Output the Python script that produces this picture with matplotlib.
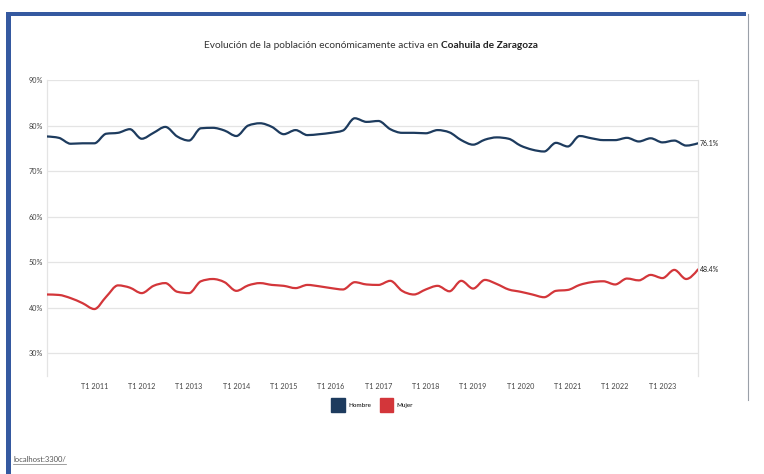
import matplotlib

matplotlib.use("Agg")

import matplotlib.pyplot as plt
import numpy as np
from matplotlib.lines import Line2D
from matplotlib.patches import Patch, PathPatch, Rectangle
from matplotlib.path import Path

FONT = ["Liberation Sans Narrow", "Lato", "DejaVu Sans"]
NAVY = "#1d3b5e"
RED = "#d3363a"
FRAME = "#3559a0"
GRID = "#e4e4e4"

QUARTERS = [f"T{q} {year}" for year in range(2010, 2024) for q in range(1, 5)]

HOMBRE = [
    77.6, 77.3, 76.0, 76.1, 76.1, 78.2, 78.4, 79.2, 77.1, 78.4,
    79.7, 77.6, 76.7, 79.4, 79.5, 78.9, 77.7, 80.0, 80.5, 79.7,
    78.1, 79.0, 77.9, 78.1, 78.4, 78.9, 81.6, 80.8, 81.0, 79.2,
    78.4, 78.4, 78.3, 79.0, 78.5, 76.8, 75.8, 76.9, 77.4, 77.1,
    75.6, 74.7, 74.3, 76.2, 75.4, 77.7, 77.2, 76.8, 76.8, 77.3,
    76.5, 77.2, 76.3, 76.7, 75.6, 76.1,
]
MUJER = [
    42.9, 42.8, 42.1, 41.0, 39.7, 42.4, 44.9, 44.4, 43.2, 44.8,
    45.4, 43.5, 43.2, 45.8, 46.3, 45.6, 43.7, 44.9, 45.4, 45.0,
    44.8, 44.3, 45.0, 44.7, 44.3, 44.0, 45.6, 45.1, 45.0, 45.9,
    43.7, 42.9, 44.0, 44.8, 43.6, 45.9, 44.2, 46.1, 45.2, 44.0,
    43.5, 42.9, 42.3, 43.7, 43.9, 45.0, 45.6, 45.8, 45.1, 46.4,
    46.0, 47.2, 46.5, 48.3, 46.3, 48.4,
]
SERIES = [("Hombre", HOMBRE, NAVY), ("Mujer", MUJER, RED)]
Y_TICKS = [30, 40, 50, 60, 70, 80, 90]

TITLE_PLAIN = "Evolución de la población económicamente activa en "
TITLE_BOLD = "Coahuila de Zaragoza"


def monotone_path(x: np.ndarray, y: np.ndarray) -> Path:
    # cubic bezier segments with monotone tangents (same scheme as d3 monotoneX)
    n = len(x)
    h = np.diff(x)
    s = np.diff(y) / h
    t = np.zeros(n)
    for i in range(1, n - 1):
        p = (s[i - 1] * h[i] + s[i] * h[i - 1]) / (h[i - 1] + h[i])
        t[i] = (np.sign(s[i - 1]) + np.sign(s[i])) * min(
            abs(s[i - 1]), abs(s[i]), 0.5 * abs(p)
        )
    t[0] = (3 * s[0] - t[1]) / 2
    t[-1] = (3 * s[-1] - t[-2]) / 2

    verts = [(x[0], y[0])]
    codes = [Path.MOVETO]
    for i in range(n - 1):
        dx = h[i] / 3
        verts += [
            (x[i] + dx, y[i] + dx * t[i]),
            (x[i + 1] - dx, y[i + 1] - dx * t[i + 1]),
            (x[i + 1], y[i + 1]),
        ]
        codes += [Path.CURVE4] * 3
    return Path(verts, codes)


def draw_frame(fig) -> None:
    w, h = fig.bbox.width, fig.bbox.height
    fig.add_artist(Rectangle((6 / w, 0), 5 / w, 1 - 12 / h,
                             transform=fig.transFigure, color=FRAME, lw=0))
    fig.add_artist(Rectangle((6 / w, 1 - 16 / h), 740 / w, 4 / h,
                             transform=fig.transFigure, color=FRAME, lw=0))
    fig.add_artist(Line2D([748 / w, 748 / w], [1 - 14 / h, 1 - 400 / h],
                          transform=fig.transFigure, color="#9aa0a8", lw=0.8))


def draw_title(fig) -> None:
    renderer = fig.canvas.get_renderer()
    y = 1 - 45 / fig.bbox.height
    plain = fig.text(0, y, TITLE_PLAIN, fontsize=7.3, color="#333333",
                     ha="left", va="center")
    bold = fig.text(0, y, TITLE_BOLD, fontsize=7.3, color="#222222",
                    fontweight="bold", ha="left", va="center")
    w_plain = plain.get_window_extent(renderer).width / fig.bbox.width
    w_bold = bold.get_window_extent(renderer).width / fig.bbox.width
    x0 = 0.485 - (w_plain + w_bold) / 2
    plain.set_x(x0)
    bold.set_x(x0 + w_plain)


def draw_footer(fig) -> None:
    renderer = fig.canvas.get_renderer()
    link = fig.text(13 / fig.bbox.width, 1 - 460 / fig.bbox.height,
                    "localhost:3300/", fontsize=5.5, color="#555555",
                    ha="left", va="center")
    box = link.get_window_extent(renderer).transformed(fig.transFigure.inverted())
    fig.add_artist(Line2D([box.x0, box.x1], [box.y0, box.y0],
                          transform=fig.transFigure, color="#777777", lw=0.5))


def plot_poblacion_activa() -> None:
    plt.rcParams["font.family"] = FONT
    fig = plt.figure(figsize=(7.64, 4.74), dpi=100)
    ax = fig.add_axes([47 / 764, 1 - 376 / 474, 651 / 764, 296 / 474])

    x = np.arange(len(QUARTERS), dtype=float)
    for name, values, color in SERIES:
        y = np.asarray(values, dtype=float)
        ax.add_patch(PathPatch(monotone_path(x, y), facecolor="none",
                               edgecolor=color, lw=1.6, zorder=3,
                               capstyle="round", joinstyle="round"))
        ax.annotate(f"{values[-1]:.1f}%", (x[-1], y[-1]), xytext=(1.5, 0),
                    textcoords="offset points", fontsize=5, color="#222222",
                    ha="left", va="center", annotation_clip=False)

    ax.set_xlim(x[0], x[-1])
    ax.set_ylim(25, 90)
    ax.set_yticks(Y_TICKS)
    ax.set_yticklabels([f"{v}%" for v in Y_TICKS])
    tick_pos = [i for i, q in enumerate(QUARTERS) if q.startswith("T1") and i > 0]
    ax.set_xticks(tick_pos)
    ax.set_xticklabels([QUARTERS[i] for i in tick_pos])
    ax.tick_params(axis="both", length=0, labelsize=5.2, colors="#444444")
    ax.tick_params(axis="y", pad=3)
    ax.tick_params(axis="x", pad=5)
    ax.grid(axis="y", color=GRID, lw=0.9)
    ax.set_axisbelow(True)
    for side in ("top", "bottom"):
        ax.spines[side].set_visible(False)
    for side in ("left", "right"):
        ax.spines[side].set_color(GRID)
        ax.spines[side].set_linewidth(0.9)

    handles = [Patch(facecolor=c, edgecolor=c, label=n) for n, _, c in SERIES]
    fig.legend(handles=handles, loc="center", bbox_to_anchor=(0.487, 1 - 405 / 474),
               ncol=2, frameon=False, fontsize=4.5, handlelength=2.2,
               handleheight=3.0, handletextpad=0.5, columnspacing=1.4)

    draw_frame(fig)
    draw_title(fig)
    draw_footer(fig)
    fig.savefig("out.png", dpi=100)
    plt.close(fig)


def main() -> None:
    plot_poblacion_activa()


if __name__ == "__main__":
    main()
